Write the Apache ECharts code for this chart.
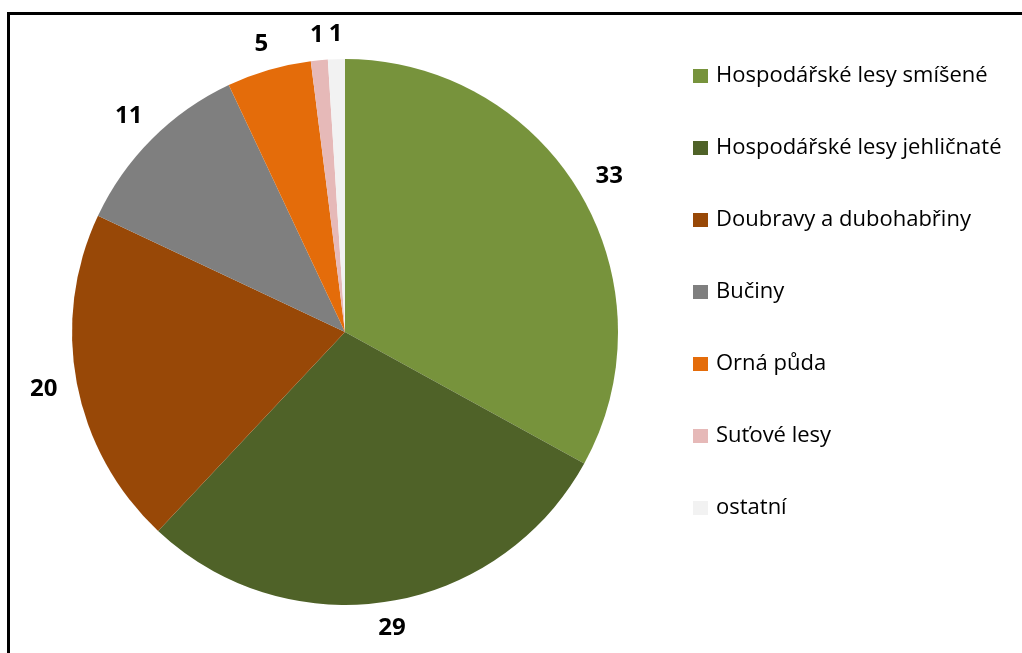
<!DOCTYPE html>
<html>
<head>
<meta charset="utf-8">
<title>Pie</title>
<script src="https://cdn.jsdelivr.net/npm/echarts@6/dist/echarts.min.js"></script>
<style>
    html, body { margin: 0; padding: 0; background: #fff; }
    #chart { width: 1022px; height: 653px; }
</style>
</head>
<body>
<div id="chart"></div>
<script>
const categories = [
    'Hospodářské lesy smíšené',
    'Hospodářské lesy jehličnaté',
    'Doubravy a dubohabřiny',
    'Bučiny',
    'Orná půda',
    'Suťové lesy',
    'ostatní'
]
const values = [33, 29, 20, 11, 5, 1, 1]
const colors = ['#77933C', '#4F6228', '#984807', '#7F7F7F', '#E46C0A', '#E6B9B8', '#F2F2F2']

const chart = echarts.init(document.getElementById('chart'))

// label sits a gap off the rim, centred on the slice direction (like Excel)
const labelGap = 19
function placeLabel(p) {
    const pts = p.labelLinePoints
    if (!pts || pts.length < 2) return { align: 'center' }
    const dx = pts[1][0] - pts[0][0]
    const dy = pts[1][1] - pts[0][1]
    const len = Math.hypot(dx, dy) || 1
    const ux = dx / len
    const uy = dy / len
    const ext = Math.abs(ux) * p.labelRect.width / 2 + Math.abs(uy) * 6
    return {
        x: pts[0][0] + ux * (labelGap + ext),
        y: pts[0][1] + uy * (labelGap + ext),
        align: 'center',
        verticalAlign: 'middle'
    }
}

chart.setOption({
    animation: false,
    backgroundColor: '#fff',
    color: colors,
    graphic: [
        {
            type: 'rect',
            shape: { x: 8.5, y: 13.5, width: 1100, height: 700 },
            style: { fill: 'none', stroke: '#000', lineWidth: 3 },
            silent: true
        }
    ],
    legend: {
        orient: 'vertical',
        left: 693,
        top: 65,
        padding: 0,
        icon: 'rect',
        itemWidth: 15,
        itemHeight: 14,
        itemGap: 50,
        data: categories,
        textStyle: {
            fontFamily: 'Open Sans',
            fontSize: 22,
            lineHeight: 22,
            color: '#000',
            padding: [0, 0, 0, 3]
        }
    },
    series: [
        {
            type: 'pie',
            center: [345, 332],
            radius: 273,
            startAngle: 90,
            clockwise: true,
            avoidLabelOverlap: false,
            itemStyle: { borderWidth: 0 },
            label: {
                show: true,
                position: 'outside',
                formatter: '{c}',
                fontFamily: 'Open Sans',
                fontWeight: 'bold',
                fontSize: 24,
                lineHeight: 24,
                color: '#000'
            },
            labelLine: {
                show: true,
                length: 20,
                length2: 0,
                lineStyle: { width: 0, opacity: 0 }
            },
            labelLayout: placeLabel,
            emphasis: { disabled: true },
            data: categories.map((name, i) => ({ name: name, value: values[i] }))
        }
    ]
})
</script>
</body>
</html>
